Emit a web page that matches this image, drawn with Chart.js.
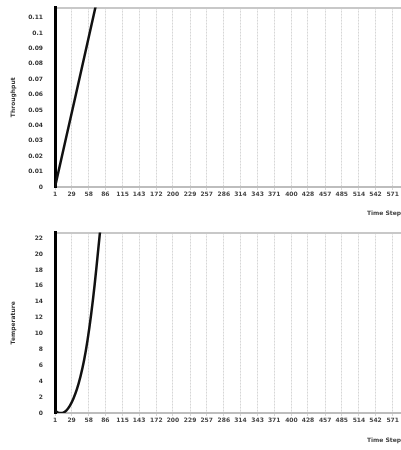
<!DOCTYPE html>
<html>
<head>
<meta charset="utf-8">
<script src="https://cdn.jsdelivr.net/npm/chart.js@4"></script>
<style>
  body { margin: 0; background: #fff; }
  canvas { display: block; }
</style>
</head>
<body>
<canvas id="topChart" width="401" height="225"></canvas>
<canvas id="bottomChart" width="401" height="225"></canvas>
<script>
// x tick labels (time step)
const xTicks = [1, 29, 58, 86, 115, 143, 172, 200, 229, 257, 286, 314, 343, 371, 400, 428, 457, 485, 514, 542, 571];
const xMax = 585;

// top series: straight ramp
const topX = [1, 35, 70];
const topY = [0, 0.058, 0.118];
const topTicks = [0, 0.01, 0.02, 0.03, 0.04, 0.05, 0.06, 0.07, 0.08, 0.09, 0.1, 0.11];

// bottom series: curve rising from zero
const botX = [1, 8, 14, 20, 26, 32, 38, 44, 50, 56, 62, 68, 74, 80];
const botY = [0.3, 0, 0, 0.3, 0.9, 1.8, 3.0, 4.6, 6.6, 9.2, 12.4, 16.2, 20.6, 25];
const botTicks = [0, 2, 4, 6, 8, 10, 12, 14, 16, 18, 20, 22];

const tickFont = {family: 'DejaVu Sans', size: 6, weight: 'bold'};
const titleFont = {family: 'DejaVu Sans', size: 6, weight: 'bold'};

// pad: layout padding, xh: height of x axis block
function makeChart(id, xs, ys, yTicks, yMax, yTitle, pad, xh) {
    const ctx = document.getElementById(id).getContext('2d');
    return new Chart(ctx, {
        type: 'line',
        data: {
            datasets: [{
                data: xs.map((x, i) => ({x: x, y: ys[i]})),
                borderColor: '#111',
                borderWidth: 2.5,
                pointRadius: 0,
                tension: 0.3,
                fill: false
            }]
        },
        options: {
            responsive: false,
            animation: false,
            layout: {padding: pad},
            plugins: {legend: {display: false}, tooltip: {enabled: false}},
            scales: {
                x: {
                    type: 'linear',
                    min: 1,
                    max: xMax,
                    afterBuildTicks: s => { s.ticks = xTicks.map(v => ({value: v})); },
                    afterFit: s => { s.height = xh; },
                    border: {display: true, color: '#bdbdbd', width: 2, dash: [2, 1]},
                    grid: {color: '#d6d6d6', lineWidth: 1, drawTicks: true, tickLength: 3},
                    ticks: {color: '#444', font: tickFont, maxRotation: 0, autoSkip: false, padding: 1,
                            callback: v => String(v)},
                    title: {display: true, text: 'Time Step', align: 'end', color: '#444',
                            font: titleFont, padding: {top: 3, bottom: 0}}
                },
                xTop: {
                    type: 'linear',
                    position: 'top',
                    min: 1,
                    max: xMax,
                    afterFit: s => { s.height = 0; },
                    border: {display: true, color: '#c8c8c8', width: 2, dash: [2, 1]},
                    grid: {display: false},
                    ticks: {display: false}
                },
                y: {
                    min: 0,
                    max: yMax,
                    afterBuildTicks: s => { s.ticks = yTicks.map(v => ({value: v})); },
                    afterFit: s => { s.width = 49; },
                    border: {display: true, color: '#000', width: 3},
                    grid: {display: false},
                    ticks: {color: '#333', font: tickFont, padding: 4, callback: v => String(v)},
                    title: {display: true, text: yTitle, color: '#333', font: titleFont}
                }
            }
        }
    });
}

makeChart('topChart', topX, topY, topTicks, 0.1165, 'Throughput',
          {top: 5, left: 6, right: 0, bottom: 8}, 30);
makeChart('bottomChart', botX, botY, botTicks, 22.7, 'Temperature',
          {top: 3, left: 6, right: 0, bottom: 6}, 31);
</script>
</body>
</html>
